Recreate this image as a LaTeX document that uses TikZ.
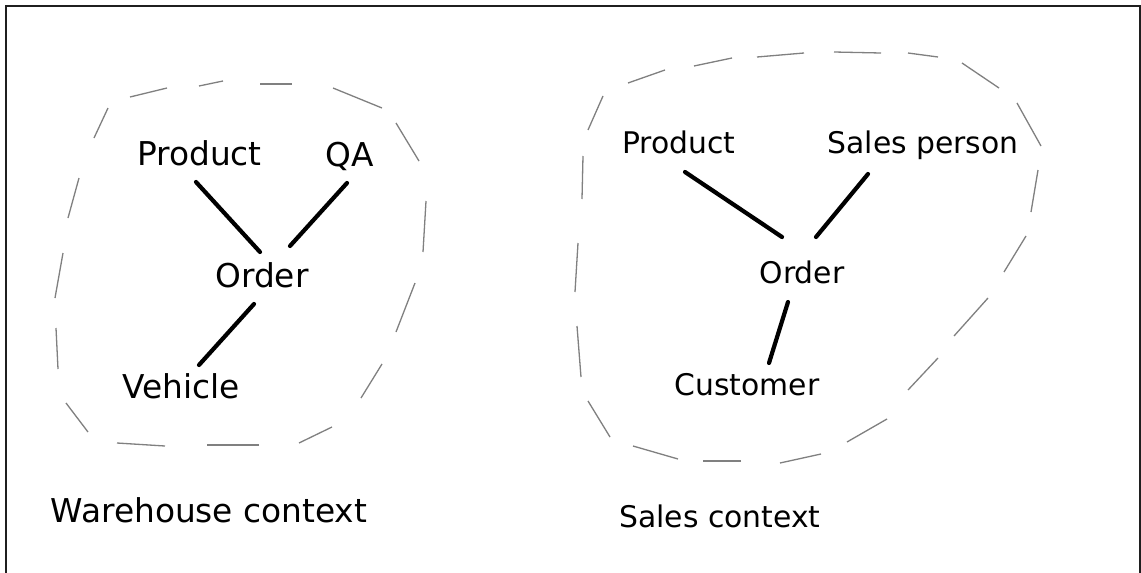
\documentclass[tikz,border=0pt]{standalone}
\usepackage{fontspec}
\setmainfont{DejaVu Sans}
\begin{document}
\begin{tikzpicture}[x=1pt,y=-1pt,
  lbl/.style={inner sep=0pt,anchor=base,font=\fontsize{32.8}{38}\selectfont},
  lblr/.style={inner sep=0pt,anchor=base,font=\fontsize{29.8}{36}\selectfont},
  link/.style={line width=4.2pt,line cap=round,black},
  blobdash/.style={line width=1.3pt,black!50},
  frameline/.style={line width=2pt,black!88}]
\useasboundingbox (0,0) rectangle (1141,573);
\fill[white] (0,0) rectangle (1141,573);
\draw[frameline] (6,573) -- (6,6) -- (1140,6) -- (1140,573);
% Warehouse context
\node[lbl] (p1) at (199.5,165) {Product};
\node[lbl] (q1) at (350,166) {QA};
\node[lbl] (o1) at (262,287) {Order};
\node[lbl] (v1) at (181,398) {Vehicle};
\node[lbl] (wh) at (209,522) {Warehouse context};
\draw[link] ([shift={(-3.5,17)}]p1.base) -- ([shift={(-2,-35)}]o1.base);
\draw[link] ([shift={(-3,17)}]q1.base) -- ([shift={(28,-41)}]o1.base);
\draw[link] ([shift={(-8,17)}]o1.base) -- ([shift={(18,-33)}]v1.base);
\foreach \ax/\ay/\bx/\by in {130/97/167/88,199/86/223/81,260/84/292/84,
  333/88/382/108,396/123/419/161,426/201/423/252,415/283/396/332,
  382/364/361/398,332/427/299/443,259/445/207/445,165/446/117/443,
  88/432/66/403,58/369/56/328,55/298/63/253,68/218/79/178,
  94/138/108/108}
  \draw[blobdash] (\ax,\ay) -- (\bx,\by);
% Sales context
\node[lblr] (p2) at (679,153) {Product};
\node[lblr] (s2) at (923,153) {Sales person};
\node[lblr] (o2) at (802,283) {Order};
\node[lblr] (c2) at (747,395) {Customer};
\node[lblr] (sc) at (720,527) {Sales context};
\draw[link] ([shift={(6,19)}]p2.base) -- ([shift={(-20,-46)}]o2.base);
\draw[link] ([shift={(-55,21)}]s2.base) -- ([shift={(14,-46)}]o2.base);
\draw[link] ([shift={(-14,19)}]o2.base) -- ([shift={(22,-32)}]c2.base);
\foreach \ax/\ay/\bx/\by in {588/130/603/96,628/83/665/70,694/66/732/58,
  757/57/804/53,834/52/881/53,908/53/938/57,962/63/999/88,
  1017/103/1041/146,1038/170/1031/212,1026/236/1004/272,
  988/298/954/336,938/358/908/390,887/419/847/442,821/454/780/463,
  741/461/703/461,678/459/633/446,610/437/588/401,581/377/577/326,
  575/292/578/243,582/199/583/156}
  \draw[blobdash] (\ax,\ay) -- (\bx,\by);
\end{tikzpicture}
\end{document}
